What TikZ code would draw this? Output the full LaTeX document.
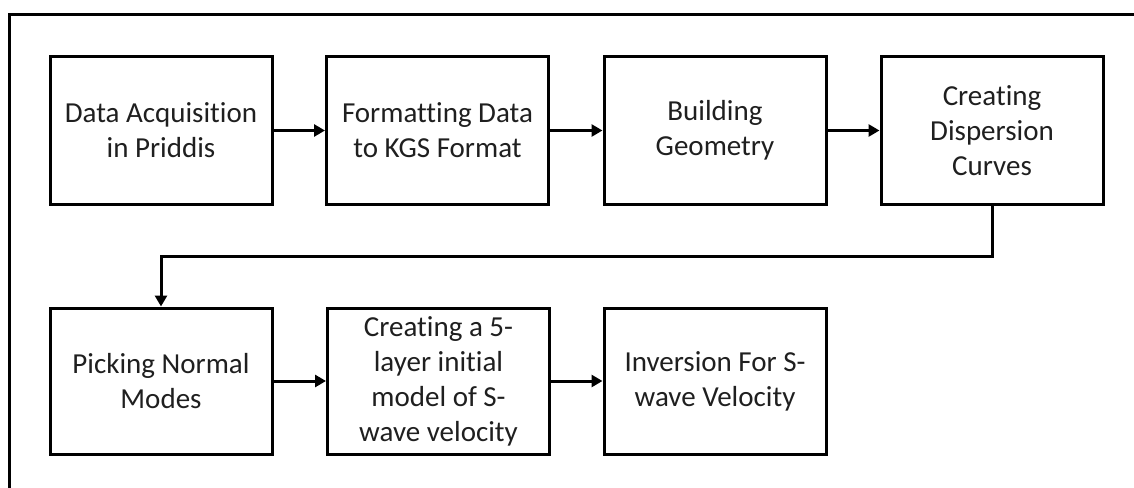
\documentclass[tikz,border=0pt]{standalone}
\usepackage{fontspec}
\setmainfont{Carlito}[Ligatures=NoCommon]
\usetikzlibrary{arrows.meta}
\begin{document}
\begin{tikzpicture}[x=1pt,y=-1pt,
  stepbox/.style={draw,line width=3pt,minimum width=222pt,minimum height=147pt,inner sep=0pt,align=center,
    font=\fontsize{29}{35}\selectfont,text=black!88},
  flow/.style={line width=3pt,-{Triangle[length=11pt,width=12pt]}}]
\useasboundingbox (0,0) rectangle (1134,487);
\draw[line width=3pt] (9,490) -- (9,15) -- (1136,15);
\node[stepbox] (n1) at (161,130.5) {Data Acquisition\\in Priddis};
\node[stepbox] (n2) at (437.5,130.5) {Formatting Data\\to KGS Format};
\node[stepbox] (n3) at (715,130.5) {Building\\Geometry};
\node[stepbox] (n4) at (992,130.5) {Creating\\Dispersion\\Curves};
\node[stepbox,minimum height=146pt] (n5) at (161,381) {Picking Normal\\Modes};
\node[stepbox,minimum height=146pt] (n6) at (438.5,381) {Creating a 5-\\layer initial\\model of S-\\wave velocity};
\node[stepbox,minimum height=146pt] (n7) at (715,381) {Inversion For S-\\wave Velocity};
\coordinate (bend) at (992,256);
\draw[flow] (n1) -- (n2);
\draw[flow] (n2) -- (n3);
\draw[flow] (n3) -- (n4);
\draw[flow] (n4.south) -- (bend) -| (n5.north);
\draw[flow] (n5) -- (n6);
\draw[flow] (n6) -- (n7);
\end{tikzpicture}
\end{document}
